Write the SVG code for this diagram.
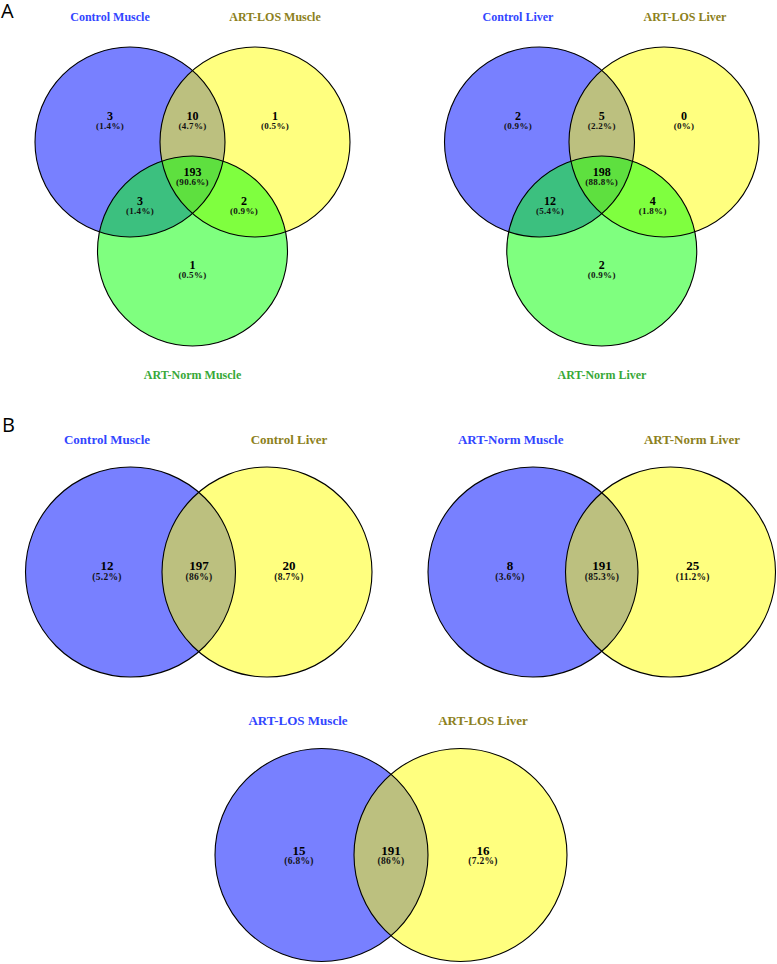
<svg xmlns="http://www.w3.org/2000/svg" width="777" height="964" viewBox="0 0 777 964">
<style>
.bg{fill:#fff}
.b{fill:#0010ff;fill-opacity:.53}
.y{fill:#ffff00;fill-opacity:.5}
.g{fill:#00ff00;fill-opacity:.5}
.o{fill:none;stroke:#000;stroke-width:1.1}
.lab{font-family:"Liberation Serif","Times New Roman",serif;font-weight:bold;text-anchor:middle}
.t{font-size:12px}
.t2{font-size:13px}
.lb{fill:#3246ff}
.ly{fill:#8c8020}
.lg{fill:#38a838}
.n{font-family:"Liberation Serif","Times New Roman",serif;font-weight:bold;text-anchor:middle;fill:#000;font-size:12px}
.n2{font-size:13px}
.p{font-family:"Liberation Serif","Times New Roman",serif;font-weight:bold;text-anchor:middle;fill:#111;font-size:9px;letter-spacing:.3px}
.p2{font-size:9.5px}
.panel{font-family:"Open Sans","Liberation Sans",sans-serif;font-size:20px;fill:#000}
</style>
<rect class="bg" x="0" y="0" width="777" height="964"/>
<text class="panel" x="1" y="18">A</text>
<text class="panel" x="2" y="432">B</text>

<g id="venn-muscle">
<g id="set-control-muscle"><circle class="b" cx="130" cy="142" r="95"/></g>
<g id="set-artlos-muscle"><circle class="y" cx="255" cy="142" r="95"/></g>
<g id="set-artnorm-muscle"><circle class="g" cx="192.5" cy="251" r="95"/></g>
<circle class="o" cx="130" cy="142" r="95"/>
<circle class="o" cx="255" cy="142" r="95"/>
<circle class="o" cx="192.5" cy="251" r="95"/>
<text class="lab t lb" x="110" y="20.5">Control Muscle</text>
<text class="lab t ly" x="275" y="20.5">ART-LOS Muscle</text>
<text class="lab t lg" x="192.5" y="379">ART-Norm Muscle</text>
<text class="n" x="110" y="120">3</text><text class="p" x="110" y="128.5">(1.4%)</text>
<text class="n" x="192.5" y="120">10</text><text class="p" x="192.5" y="128.5">(4.7%)</text>
<text class="n" x="275" y="120">1</text><text class="p" x="275" y="128.5">(0.5%)</text>
<text class="n" x="192.5" y="175.5">193</text><text class="p" x="192.5" y="185">(90.6%)</text>
<text class="n" x="140" y="204.5">3</text><text class="p" x="140" y="213.5">(1.4%)</text>
<text class="n" x="244" y="204.5">2</text><text class="p" x="244" y="213.5">(0.9%)</text>
<text class="n" x="192.5" y="269">1</text><text class="p" x="192.5" y="278">(0.5%)</text>
</g>

<g id="venn-liver">
<g id="set-control-liver"><circle class="b" cx="539.5" cy="142" r="95"/></g>
<g id="set-artlos-liver"><circle class="y" cx="664" cy="142" r="95"/></g>
<g id="set-artnorm-liver"><circle class="g" cx="601.75" cy="251" r="95"/></g>
<circle class="o" cx="539.5" cy="142" r="95"/>
<circle class="o" cx="664" cy="142" r="95"/>
<circle class="o" cx="601.75" cy="251" r="95"/>
<text class="lab t lb" x="518" y="20.5">Control Liver</text>
<text class="lab t ly" x="685" y="20.5">ART-LOS Liver</text>
<text class="lab t lg" x="602" y="379">ART-Norm Liver</text>
<text class="n" x="518" y="120">2</text><text class="p" x="518" y="128.5">(0.9%)</text>
<text class="n" x="601.7" y="120">5</text><text class="p" x="601.7" y="128.5">(2.2%)</text>
<text class="n" x="684" y="120">0</text><text class="p" x="684" y="128.5">(0%)</text>
<text class="n" x="601.7" y="175.5">198</text><text class="p" x="601.7" y="185">(88.8%)</text>
<text class="n" x="550" y="204.5">12</text><text class="p" x="550" y="213.5">(5.4%)</text>
<text class="n" x="652.7" y="204.5">4</text><text class="p" x="652.7" y="213.5">(1.8%)</text>
<text class="n" x="601.7" y="269">2</text><text class="p" x="601.7" y="278">(0.9%)</text>
</g>

<g id="venn-control">
<g id="set-control-muscle-b"><circle class="b" cx="130.5" cy="572" r="105"/></g>
<g id="set-control-liver-b"><circle class="y" cx="267" cy="572" r="105"/></g>
<circle class="o" cx="130.5" cy="572" r="105"/>
<circle class="o" cx="267" cy="572" r="105"/>
<text class="lab t2 lb" x="107" y="444">Control Muscle</text>
<text class="lab t2 ly" x="289" y="444">Control Liver</text>
<text class="n n2" x="107" y="570">12</text><text class="p p2" x="107" y="579.5">(5.2%)</text>
<text class="n n2" x="199" y="570">197</text><text class="p p2" x="199" y="579.5">(86%)</text>
<text class="n n2" x="289" y="570">20</text><text class="p p2" x="289" y="579.5">(8.7%)</text>
</g>

<g id="venn-artnorm">
<g id="set-artnorm-muscle-b"><circle class="b" cx="533" cy="572" r="105"/></g>
<g id="set-artnorm-liver-b"><circle class="y" cx="670.5" cy="572" r="105"/></g>
<circle class="o" cx="533" cy="572" r="105"/>
<circle class="o" cx="670.5" cy="572" r="105"/>
<text class="lab t2 lb" x="510.7" y="444">ART-Norm Muscle</text>
<text class="lab t2 ly" x="692" y="444">ART-Norm Liver</text>
<text class="n n2" x="510" y="570">8</text><text class="p p2" x="510" y="579.5">(3.6%)</text>
<text class="n n2" x="602" y="570">191</text><text class="p p2" x="602" y="579.5">(85.3%)</text>
<text class="n n2" x="692.7" y="570">25</text><text class="p p2" x="692.7" y="579.5">(11.2%)</text>
</g>

<g id="venn-artlos">
<g id="set-artlos-muscle-b"><circle class="b" cx="321.5" cy="855" r="106.5"/></g>
<g id="set-artlos-liver-b"><circle class="y" cx="460.5" cy="855" r="106.5"/></g>
<circle class="o" cx="321.5" cy="855" r="106.5"/>
<circle class="o" cx="460.5" cy="855" r="106.5"/>
<text class="lab t2 lb" x="298" y="725">ART-LOS Muscle</text>
<text class="lab t2 ly" x="483" y="725">ART-LOS Liver</text>
<text class="n n2" x="299" y="854.5">15</text><text class="p p2" x="299" y="864">(6.8%)</text>
<text class="n n2" x="391" y="854.5">191</text><text class="p p2" x="391" y="864">(86%)</text>
<text class="n n2" x="483" y="854.5">16</text><text class="p p2" x="483" y="864">(7.2%)</text>
</g>
</svg>
